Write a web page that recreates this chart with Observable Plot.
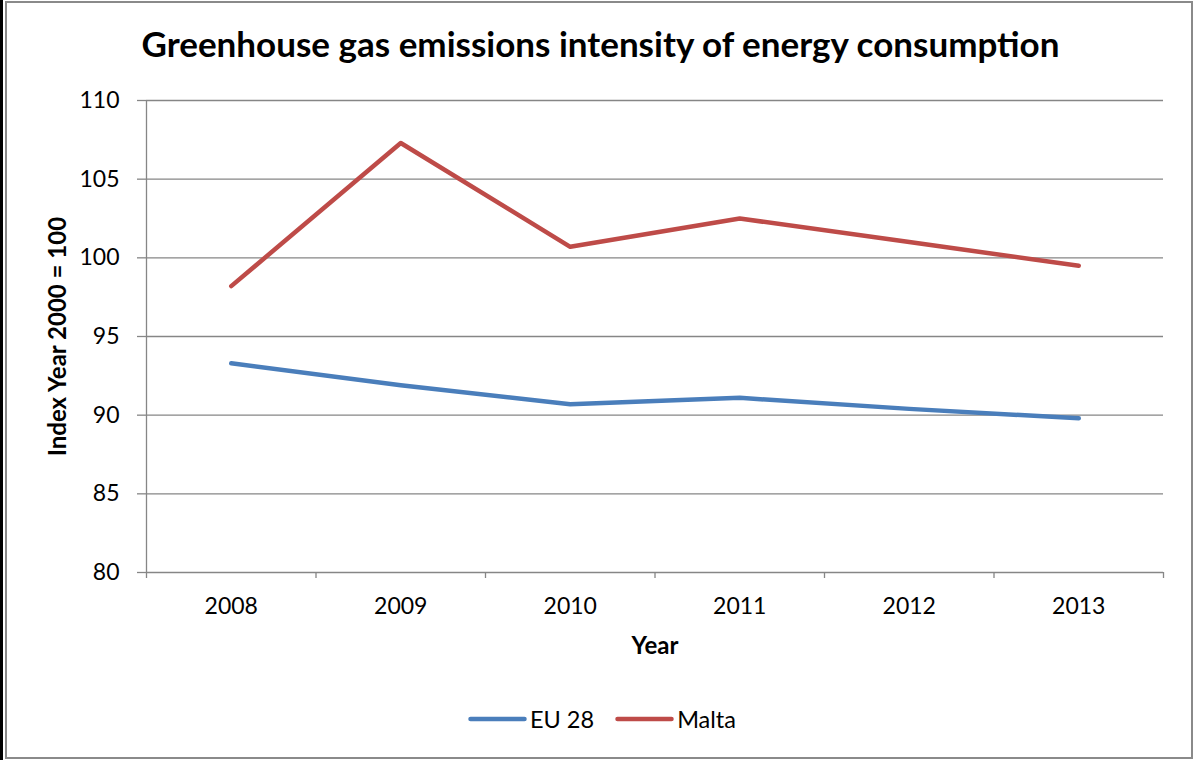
<!DOCTYPE html>
<html>
<head>
<meta charset="utf-8">
<script src="https://cdn.jsdelivr.net/npm/d3@7"></script>
<script src="https://cdn.jsdelivr.net/npm/@observablehq/plot@0.6"></script>
<style>
  body { margin: 0; background: #fff; }
  #chart { position: relative; width: 1195px; height: 760px; overflow: hidden; font-family: Lato, "Open Sans", sans-serif; background: #fff; }
  #chart svg.plot { position: absolute; left: 0; top: 0; }
  #title { position: absolute; left: 3px; width: 1195px; top: 22px; text-align: center; font-weight: bold; font-size: 35px; line-height: 42px; color: #000; white-space: nowrap; }
  #legend { position: absolute; top: 704px; left: 468px; display: flex; align-items: center; font-size: 23.5px; line-height: 30px; color: #000; }
  #legend .item { display: flex; align-items: center; margin-right: 21px; }
  #legend svg { display: block; margin-right: 3px; }
  #frame { position: absolute; left: 5px; top: 1px; width: 1188px; height: 758px; border: 2px solid #8a8a8a; box-sizing: border-box; pointer-events: none; }
  #bar { position: absolute; left: 0; top: 0; width: 3px; height: 760px; background: #000; }
</style>
</head>
<body>
<div id="chart">
  <div id="title">Greenhouse gas emissions intensity of energy consumption</div>
  <div id="legend"></div>
  <div id="frame"></div>
  <div id="bar"></div>
</div>
<script>
// Index values (year 2000 = 100)
const years = [2008, 2009, 2010, 2011, 2012, 2013];
const eu28 = [93.3, 91.9, 90.7, 91.1, 90.4, 89.8];
const malta = [98.2, 107.3, 100.7, 102.5, 101.0, 99.5];

const seriesNames = ["EU 28", "Malta"];
const seriesColors = ["#4a7ebb", "#be4b48"];
const yTicks = [80, 85, 90, 95, 100, 105, 110];

const xTitle = "Year";
const yTitle = "Index Year 2000 = 100";

// long-format rows for the line mark
const rows = years.flatMap((yr, i) => [
  {year: yr, value: eu28[i], series: seriesNames[0]},
  {year: yr, value: malta[i], series: seriesNames[1]}
]);

// category boundaries between years (tick marks on the x axis)
const bounds = [...years.map(y => y - 0.5), years[years.length - 1] + 0.5];

const gridColor = "#868686";

const plot = Plot.plot({
  width: 1195,
  height: 760,
  marginLeft: 146,
  marginRight: 32,
  marginTop: 100,
  marginBottom: 188,
  x: {domain: [bounds[0], bounds[bounds.length - 1]]},
  y: {domain: [yTicks[0], yTicks[yTicks.length - 1]]},
  color: {domain: seriesNames, range: seriesColors},
  style: {fontFamily: "Lato, 'Open Sans', sans-serif", fontSize: "23px", color: "#000", background: "transparent", overflow: "visible"},
  marks: [
    Plot.gridY(yTicks.slice(1), {stroke: gridColor, strokeOpacity: 1, strokeWidth: 1.3}),
    Plot.ruleY([yTicks[0]], {stroke: gridColor, strokeWidth: 1.3}),
    Plot.ruleX([bounds[0]], {stroke: gridColor, strokeWidth: 1.3}),
    Plot.axisY({ticks: yTicks, tickSize: 9, tickPadding: 18, stroke: gridColor, strokeWidth: 1.3, fill: "#000", label: null, tickFormat: d => String(d)}),
    Plot.axisX({ticks: bounds, tickSize: 6, stroke: gridColor, strokeWidth: 1.3, tickFormat: () => "", label: null}),
    Plot.axisX({ticks: years, tickSize: 0, tickPadding: 25, fill: "#000", label: null, tickFormat: d => String(d)}),
    Plot.line(rows, {x: "year", y: "value", stroke: "series", strokeWidth: 4.5, strokeLinecap: "round", strokeLinejoin: "round"}),
    Plot.text([xTitle], {frameAnchor: "bottom", dy: 81, fontWeight: "bold", fontSize: 24, fill: "#000"}),
    Plot.text([yTitle], {frameAnchor: "left", dx: -88, rotate: -90, textAnchor: "middle", fontWeight: "bold", fontSize: 24, fill: "#000"})
  ]
});
plot.classList.add("plot");
document.getElementById("chart").prepend(plot);

// legend
const legend = document.getElementById("legend");
seriesNames.forEach((name, i) => {
  const item = document.createElement("div");
  item.className = "item";
  item.innerHTML = `<svg width="59" height="10"><line x1="2.5" y1="5" x2="56.5" y2="5" stroke="${seriesColors[i]}" stroke-width="4.5" stroke-linecap="round"/></svg><span>${name}</span>`;
  legend.appendChild(item);
});
</script>
</body>
</html>
